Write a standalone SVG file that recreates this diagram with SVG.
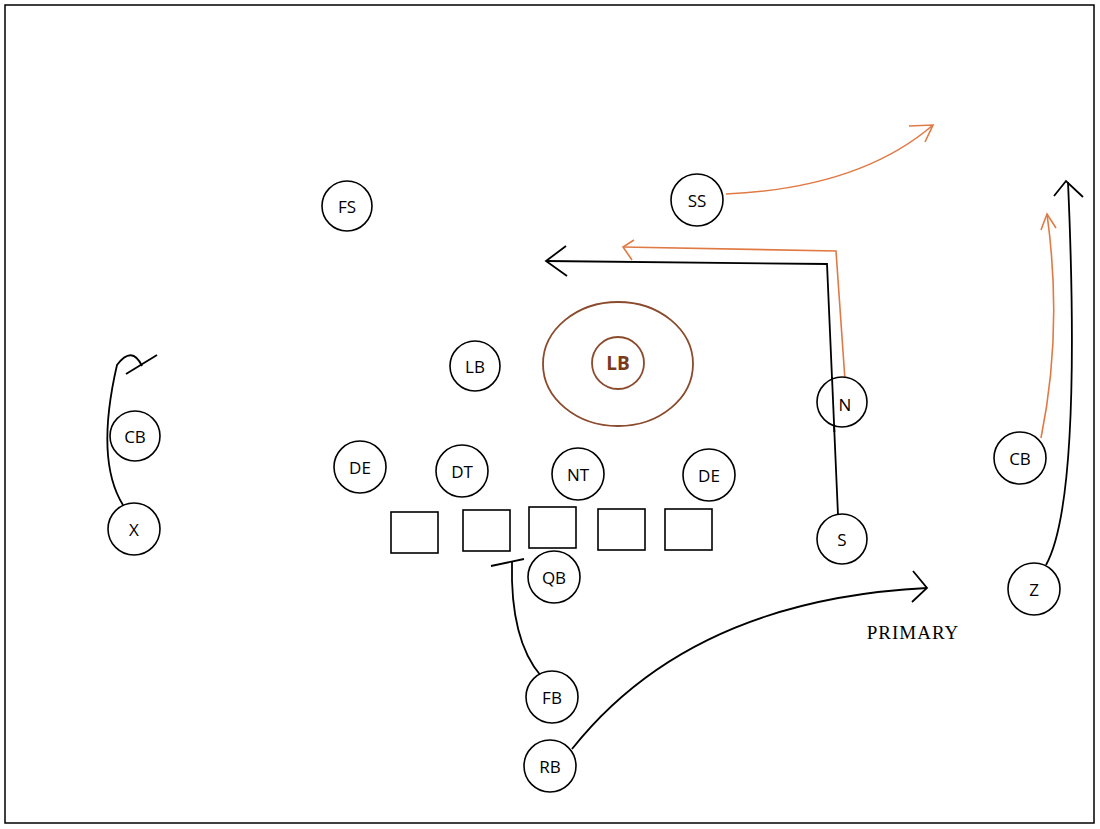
<svg xmlns="http://www.w3.org/2000/svg" width="1100" height="829" viewBox="0 0 1100 829">
<style>
.p{fill:#fff;stroke:#000;stroke-width:1.6}
.t{font-family:"Open Sans","Liberation Sans",sans-serif;font-size:17px;text-anchor:middle;fill:#000}
.k{fill:none;stroke:#000;stroke-width:1.8}
.o{fill:none;stroke:#e07a45;stroke-width:1.6}
</style>
<rect x="0" y="0" width="1100" height="829" fill="#fff"/>
<rect x="5" y="5" width="1089" height="818" fill="none" stroke="#000" stroke-width="1.5"/>
<g id="connectors">
<path class="o" d="M726 194 Q860 188 933 125"/>
<path class="o" d="M909 126 L933 125 L925 142"/>
<path class="o" d="M845 380 L836 251 L623 247"/>
<path class="o" d="M634 240 L623 247 L632 260"/>
<path class="o" d="M1041 438 Q1063 330 1047 214"/>
<path class="o" d="M1041 230 L1047 214 L1056 228"/>
<path class="k" d="M838 515 L827 264 L546 261"/>
<path class="k" d="M566 246 L546 261 L567 276"/>
<path class="k" d="M1046 565 Q1082 500 1068 182"/>
<path class="k" d="M1054 196 L1066 181 L1083 197"/>
<path class="k" d="M572 749 Q690 600 927 588"/>
<path class="k" d="M913 571 L927 588 L912 602"/>
<path class="k" d="M541 676 Q510 640 512 562"/>
<path class="k" d="M491 566 L524 559"/>
<path class="k" d="M123 505 Q95 460 117 365 Q132 345 142 366"/>
<path class="k" d="M126 374 L157 355"/>
</g>
<g id="LBzone"><ellipse cx="618" cy="364" rx="75" ry="62" fill="none" stroke="#8b4a2b" stroke-width="1.8"/>
<circle cx="618" cy="363" r="26" fill="none" stroke="#8b4a2b" stroke-width="1.8"/>
<text x="618" y="370" class="t" style="fill:#7a3a1a;font-weight:bold;font-size:19px">LB</text></g>
<g id="FS"><circle class="p" cx="347" cy="206" r="25"/><text class="t" x="347" y="213">FS</text></g>
<g id="SS"><circle class="p" cx="697" cy="200" r="26"/><text class="t" x="697" y="207">SS</text></g>
<g id="LB"><circle class="p" cx="475" cy="366" r="25"/><text class="t" x="475" y="373">LB</text></g>
<g id="N"><circle class="p" cx="842" cy="402" r="25"/><text class="t" x="845" y="411">N</text></g>
<path class="k" d="M834.4 432 L832 377"/>
<g id="CB1"><circle class="p" cx="135" cy="436" r="25"/><text class="t" x="135" y="443">CB</text></g>
<g id="CB2"><circle class="p" cx="1020" cy="458" r="26"/><text class="t" x="1020" y="465">CB</text></g>
<g id="DE1"><circle class="p" cx="360" cy="467" r="26"/><text class="t" x="360" y="474">DE</text></g>
<g id="DT"><circle class="p" cx="462" cy="471" r="26"/><text class="t" x="462" y="478">DT</text></g>
<g id="NT"><circle class="p" cx="578" cy="474" r="26"/><text class="t" x="578" y="481">NT</text></g>
<g id="DE2"><circle class="p" cx="709" cy="475" r="26"/><text class="t" x="709" y="482">DE</text></g>
<g id="X"><circle class="p" cx="134" cy="529" r="26"/><text class="t" x="134" y="536">X</text></g>
<g id="S"><circle class="p" cx="842" cy="539" r="25"/><text class="t" x="842" y="546">S</text></g>
<g id="Z"><circle class="p" cx="1034" cy="589" r="26"/><text class="t" x="1034" y="596">Z</text></g>
<g id="OL1"><rect class="p" x="391" y="512" width="47" height="41"/></g>
<g id="OL2"><rect class="p" x="463" y="510" width="47" height="41"/></g>
<g id="C"><rect class="p" x="529" y="507" width="47" height="41"/></g>
<g id="OL4"><rect class="p" x="598" y="509" width="47" height="41"/></g>
<g id="OL5"><rect class="p" x="665" y="509" width="47" height="41"/></g>
<g id="QB"><circle class="p" cx="554" cy="577" r="26"/><text class="t" x="554" y="584">QB</text></g>
<g id="FB"><circle class="p" cx="552" cy="697" r="26"/><text class="t" x="552" y="704">FB</text></g>
<g id="RB"><circle class="p" cx="550" cy="766" r="26"/><text class="t" x="550" y="773">RB</text></g>
<text x="913" y="639" style="font-family:'Liberation Serif',serif;font-size:19px;text-anchor:middle;letter-spacing:1px">PRIMARY</text>
</svg>
